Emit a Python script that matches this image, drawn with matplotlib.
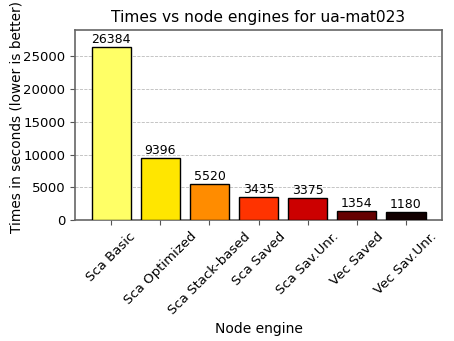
import numpy as np
import matplotlib
matplotlib.use('Agg')
import matplotlib.pyplot as plt

engines = ["Sca Basic", "Sca Optimized", "Sca Stack-based", "Sca Saved",
           "Sca Sav.Unr.", "Vec Saved", "Vec Sav.Unr."]
times = [26384, 9396, 5520, 3435, 3375, 1354, 1180]
colors = ["#ffff66", "#ffe600", "#ff8c00", "#ff3300", "#cc0000", "#660000", "#120000"]

fig, ax = plt.subplots(figsize=(4.54, 3.41), dpi=100)

x = np.arange(len(engines))
bars = ax.bar(x, times, width=0.8, color=colors, edgecolor="black", linewidth=1, zorder=3)

# etiquetas encima de cada barra
for xi, t in zip(x, times):
    ax.text(xi, t + 150, str(t), ha="center", va="bottom", fontsize=9)

ax.set_ylim(0, max(times) * 1.1)
ax.set_xticks(x)
ax.set_xticklabels(engines, rotation=45, ha="center", fontsize=9.5)
ax.tick_params(axis="y", labelsize=9.5)
ax.tick_params(colors="#555555", labelcolor="black")
ax.yaxis.grid(True, linestyle="--", color="#bbbbbb", linewidth=0.6, zorder=0)

for s in ax.spines.values():
    s.set_color("#666666")
    s.set_linewidth(1.2)

ax.set_title("Times vs node engines for ua-mat023", fontsize=11.2)
ax.set_xlabel("Node engine", fontsize=10)
ax.set_ylabel("Times in seconds (lower is better)", fontsize=9.8)
ax.yaxis.set_label_coords(-0.14, 0.54)

plt.subplots_adjust(left=0.165, right=0.974, top=0.912, bottom=0.355)
plt.savefig("out.png", dpi=100)
